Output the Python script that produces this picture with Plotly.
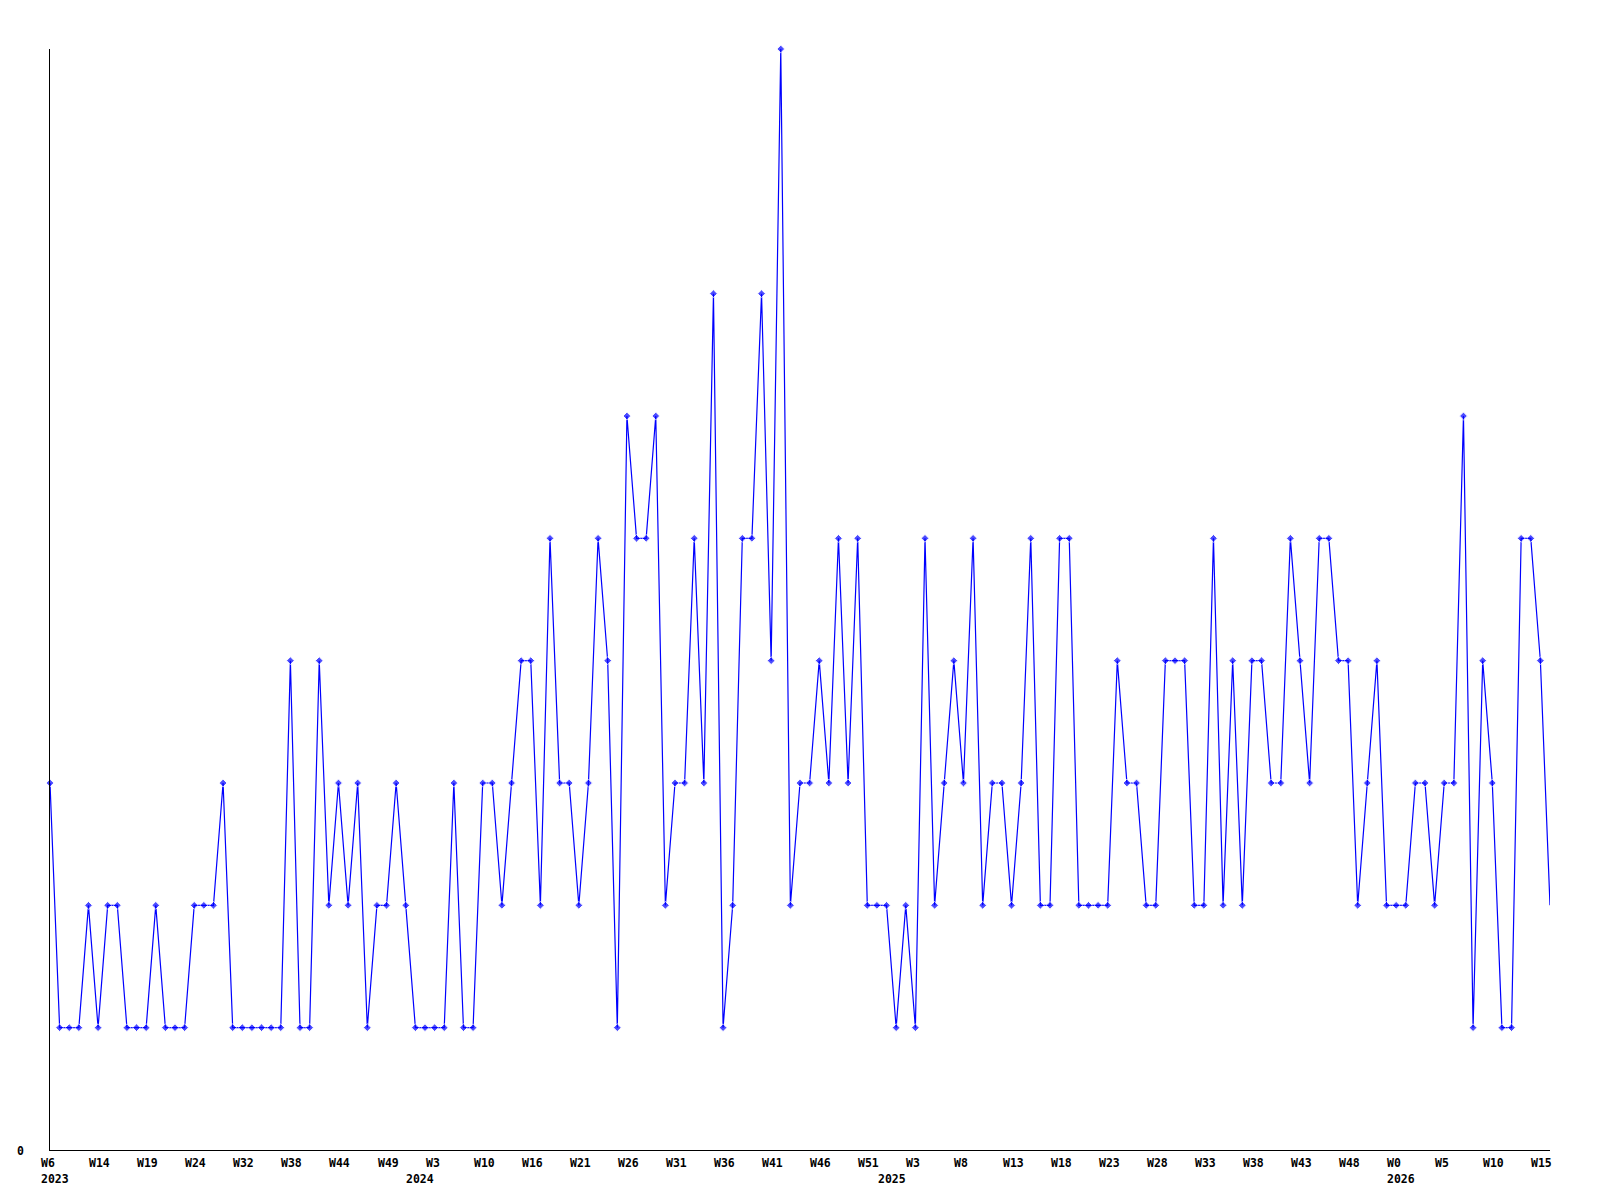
import plotly.graph_objects as go

# Weekly counts (one value per point, left to right)
values = [
    3, 1, 1, 1, 2, 1, 2, 2, 1, 1,
    1, 2, 1, 1, 1, 2, 2, 2, 3, 1,
    1, 1, 1, 1, 1, 4, 1, 1, 4, 2,
    3, 2, 3, 1, 2, 2, 3, 2, 1, 1,
    1, 1,
    3, 1, 1, 3, 3, 2, 3, 4, 4, 2,
    5, 3, 3, 2, 3, 5, 4, 1, 6, 5,
    5, 6, 2, 3, 3, 5, 3, 7, 1, 2,
    5, 5, 7, 4, 9, 2, 3, 3, 4, 3,
    5, 3, 5, 2, 2, 2, 1, 2, 1, 5,
    2, 3, 4, 3, 5, 2, 3, 3, 2, 3,
    5, 2, 2, 5, 5, 2, 2, 2, 2, 4,
    3, 3, 2, 2, 4, 4, 4, 2, 2, 5,
    2, 4, 2, 4, 4, 3, 3, 5, 4, 3,
    5, 5, 4, 4, 2, 3, 4, 2, 2, 2,
    3, 3, 2, 3, 3, 6, 1, 4, 3, 1,
    1, 5, 5, 4, 2,
]
weeks = list(range(len(values)))

# Tick labels (one every 5 points) and year labels
tick_labels = ["W6", "W14", "W19", "W24", "W32", "W38", "W44", "W49", "W3", "W10",
               "W16", "W21", "W26", "W31", "W36", "W41", "W46", "W51", "W3", "W8",
               "W13", "W18", "W23", "W28", "W33", "W38", "W43", "W48", "W0", "W5",
               "W10", "W15"]
tick_step = 5
year_labels = ["2023", "2024", "2025", "2026"]
year_positions = [0, 38, 87, 140]

font = dict(family="DejaVu Sans Mono", size=11.5, color="black", weight="bold")

marker_sizes = [6] * (len(values) - 1) + [0]

fig = go.Figure()
fig.add_trace(go.Scatter(
    x=weeks, y=values, mode="lines+markers",
    line=dict(color="#0000ff", width=1.2),
    marker=dict(symbol="diamond", size=marker_sizes, color="#0000ff"),
    cliponaxis=False, showlegend=False, hoverinfo="x+y",
))

annotations = []
for i, lab in enumerate(tick_labels):
    annotations.append(dict(
        x=i * tick_step, xref="x", y=0, yref="paper", text=lab, showarrow=False,
        xanchor="left", yanchor="middle", xshift=-11, yshift=-13, font=font,
    ))
for lab, pos in zip(year_labels, year_positions):
    annotations.append(dict(
        x=pos, xref="x", y=0, yref="paper", text=lab, showarrow=False,
        xanchor="left", yanchor="middle", xshift=-11, yshift=-29, font=font,
    ))
annotations.append(dict(
    x=0, xref="paper", y=0, yref="y", text="0", showarrow=False,
    xanchor="right", yanchor="middle", xshift=-24, yshift=-1, font=font,
))

fig.update_layout(
    width=1600, height=1200,
    margin=dict(l=42, r=58, t=41, b=58),
    paper_bgcolor="white", plot_bgcolor="white",
    xaxis=dict(range=[0, len(values) - 1], showgrid=False, zeroline=False,
               showline=True, linecolor="black", linewidth=1,
               showticklabels=False, ticks=""),
    yaxis=dict(range=[0, 9], showgrid=False, zeroline=False,
               showline=True, linecolor="black", linewidth=1,
               showticklabels=False, ticks=""),
    annotations=annotations,
)

fig.write_html("out.html")
